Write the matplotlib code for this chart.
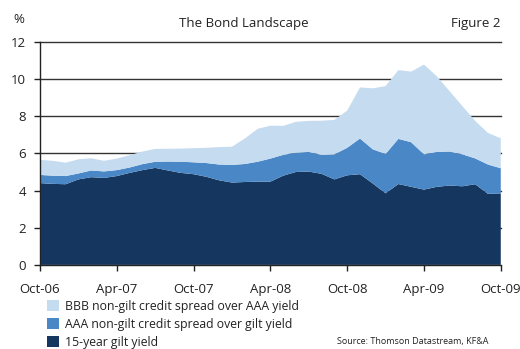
import numpy as np
import matplotlib
matplotlib.use("Agg")
import matplotlib.pyplot as plt
from matplotlib.patches import Patch

plt.rcParams["font.family"] = ["Open Sans", "DejaVu Sans"]

# monthly, Oct-06 .. Oct-09
MONTHS = np.arange(37)
GILT = [4.40, 4.36, 4.34, 4.60, 4.72, 4.68, 4.78, 4.95, 5.10, 5.22,
        5.08, 4.95, 4.88, 4.74, 4.55, 4.43, 4.46, 4.48, 4.48, 4.80,
        5.00, 5.02, 4.90, 4.60, 4.82, 4.88, 4.38, 3.85, 4.35, 4.20,
        4.05, 4.20, 4.27, 4.23, 4.34, 3.82, 3.85]
AAA_SPREAD = [0.44, 0.44, 0.44, 0.32, 0.36, 0.35, 0.32, 0.29, 0.32, 0.33,
              0.48, 0.60, 0.64, 0.74, 0.85, 0.95, 0.97, 1.07, 1.24, 1.12,
              1.04, 1.06, 1.02, 1.35, 1.48, 1.92, 1.84, 2.12, 2.43, 2.40,
              1.90, 1.88, 1.83, 1.72, 1.39, 1.58, 1.35]
BBB_SPREAD = [0.81, 0.80, 0.72, 0.76, 0.66, 0.57, 0.62, 0.66, 0.68, 0.69,
              0.69, 0.71, 0.76, 0.82, 0.94, 0.98, 1.37, 1.77, 1.77, 1.56,
              1.66, 1.67, 1.84, 1.85, 2.00, 2.75, 3.28, 3.65, 3.70, 3.80,
              4.83, 4.07, 3.25, 2.60, 2.02, 1.70, 1.61]

TICK_POS = [0, 6, 12, 18, 24, 30, 36]
TICK_LABELS = ["Oct-06", "Apr-07", "Oct-07", "Apr-08", "Oct-08", "Apr-09", "Oct-09"]
LABELS = ["15-year gilt yield",
          "AAA non-gilt credit spread over gilt yield",
          "BBB non-gilt credit spread over AAA yield"]
COLORS = ["#15365e", "#4a87c6", "#c5dbf0"]

fig = plt.figure(figsize=(5.2, 3.49), dpi=100, facecolor="white")
ax = fig.add_axes([0.077, 0.241, 0.886, 0.639])

ax.stackplot(MONTHS, GILT, AAA_SPREAD, BBB_SPREAD, colors=COLORS,
             linewidth=0, zorder=2)

ax.set_xlim(0, 36)
ax.set_ylim(0, 12)
ax.set_yticks(range(0, 13, 2))
ax.set_xticks(TICK_POS)
ax.set_xticklabels(TICK_LABELS)
for y in range(2, 13, 2):
    ax.axhline(y, color="#333333", linewidth=1.0, zorder=1, clip_on=False)

for s in ["top", "right"]:
    ax.spines[s].set_visible(False)
for s in ["left", "bottom"]:
    ax.spines[s].set_color("#222222")
    ax.spines[s].set_linewidth(1.0)
    ax.spines[s].set_zorder(3)
ax.tick_params(axis="both", direction="out", length=4, width=1,
               color="#222222", labelsize=9.5, labelcolor="#222222")
ax.tick_params(axis="x", pad=9)
ax.tick_params(axis="y", pad=6)

fig.text(0.025, 0.945, "%", fontsize=9.5, ha="left", va="center", color="#222222")
fig.text(0.468, 0.933, "The Bond Landscape", fontsize=9.5, ha="center", va="center", color="#222222")
fig.text(0.962, 0.933, "Figure 2", fontsize=9.5, ha="right", va="center", color="#222222")

handles = [Patch(facecolor=COLORS[2]), Patch(facecolor=COLORS[1]), Patch(facecolor=COLORS[0])]
fig.legend(handles, [LABELS[2], LABELS[1], LABELS[0]],
           loc="upper left", bbox_to_anchor=(0.09, 0.14), frameon=False,
           fontsize=8.8, handlelength=1.0, handleheight=1.0, handletextpad=0.45,
           labelspacing=0.4, borderpad=0, borderaxespad=0, labelcolor="#222222")

fig.text(0.94, 0.008, "Source: Thomson Datastream, KF&A", fontsize=6.5,
         ha="right", va="bottom", color="#222222")

fig.savefig("out.png", dpi=100, facecolor="white")
